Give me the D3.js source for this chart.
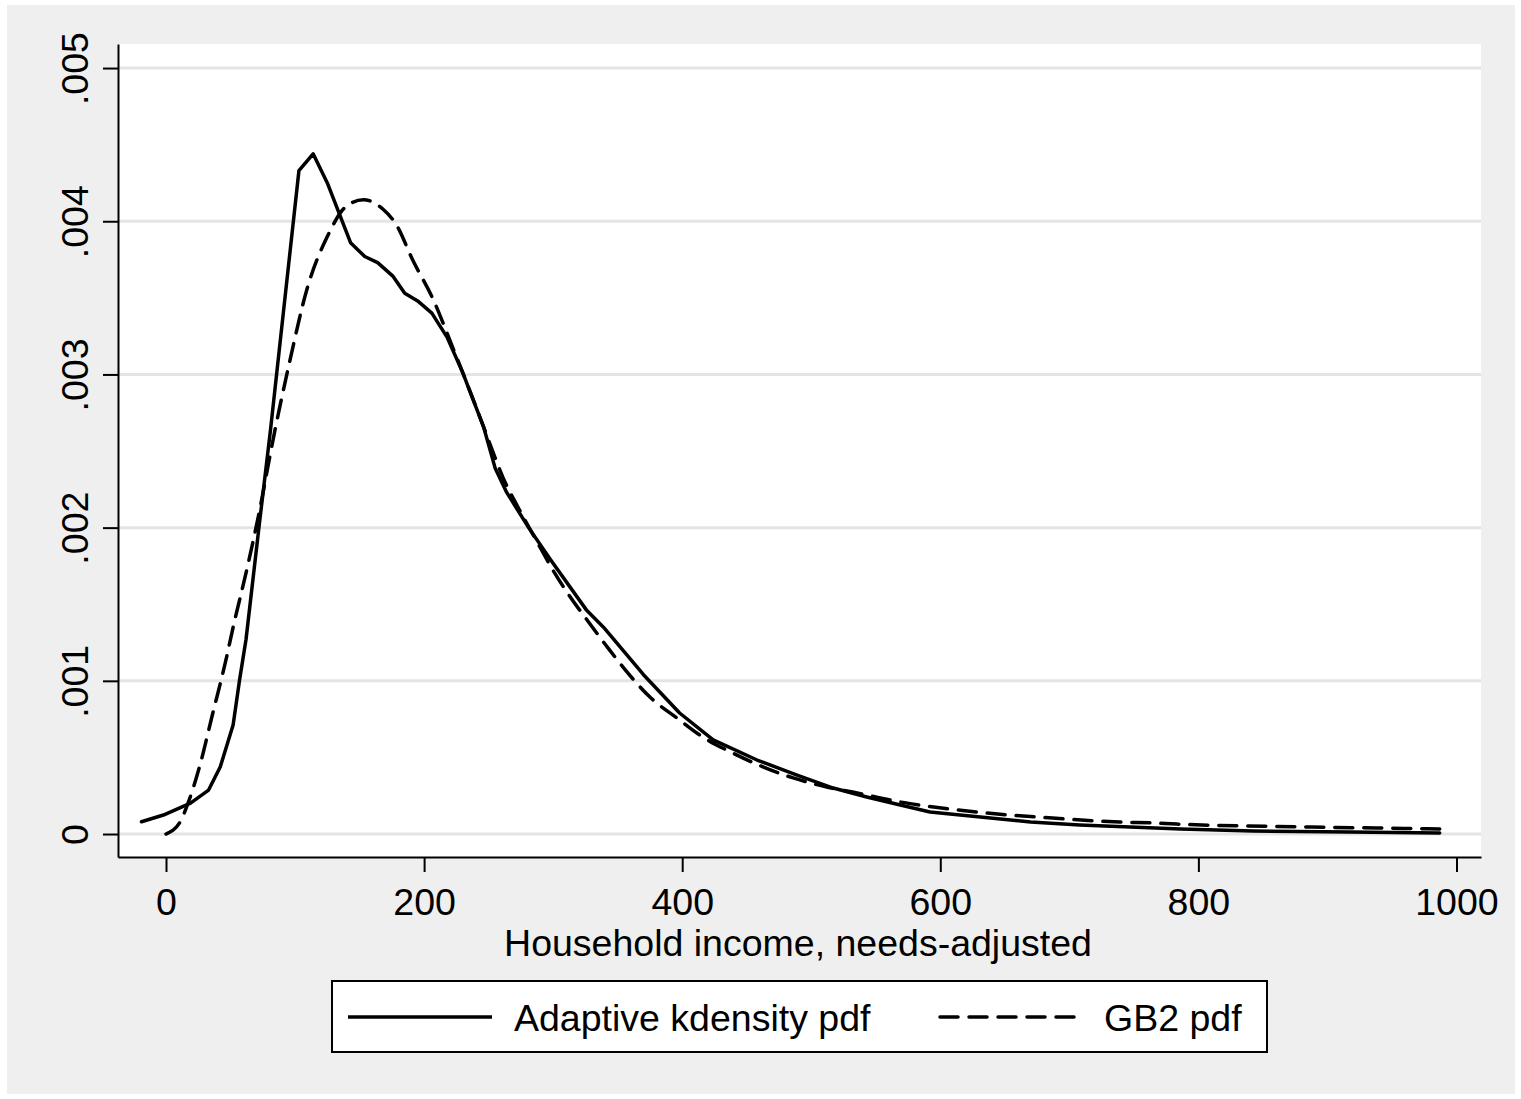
<!DOCTYPE html>
<html>
<head>
<meta charset="utf-8">
<script src="https://cdn.jsdelivr.net/npm/d3@7"></script>
<style>
  body { margin: 0; background: #ffffff; }
  text { font-family: "Liberation Sans", Arial, Helvetica, sans-serif; fill: #000; }
</style>
</head>
<body>
<div id="chart"></div>
<script>
/*********************************
   DATA
 *********************************/

// Adaptive kdensity pdf (solid)
const kdensityX = [-19, -2, 19, 33, 42, 52, 57, 62, 72, 81, 103, 114, 125, 143, 154, 164, 176, 185, 195, 206, 218, 230, 246, 255, 264, 281, 298, 326, 339, 370, 398, 424, 458, 489, 517, 543, 569, 592, 631, 670, 708, 747, 786, 842, 917, 987];
const kdensityY = [0.00008, 0.000124, 0.000202, 0.000287, 0.000437, 0.000711, 0.001005, 0.00127, 0.002, 0.00264, 0.00433, 0.00444, 0.00425, 0.00386, 0.00377, 0.00373, 0.00364, 0.00353, 0.00348, 0.0034, 0.00324, 0.00301, 0.00266, 0.00239, 0.00223, 0.002, 0.00179, 0.00146, 0.00135, 0.00104, 0.00079, 0.000614, 0.000483, 0.000385, 0.0003, 0.000242, 0.000189, 0.000144, 0.000111, 0.000078, 0.000059, 0.000046, 0.000033, 0.00002, 0.000013, 0.000007];

// GB2 pdf (dashed)
const gb2X = [0, 11, 17, 26, 36, 46, 52, 63, 71, 85, 96, 109, 125, 140, 153, 168, 179, 191, 207, 222, 246, 250, 261, 273, 288, 300, 313, 326, 342, 357, 375, 396, 416, 439, 463, 486, 512, 532, 569, 584, 636, 687, 739, 765, 783, 887, 964, 987];
const gb2Y = [0, 0.00008, 0.0002, 0.00044, 0.00078, 0.00112, 0.00135, 0.00174, 0.00205, 0.00266, 0.00309, 0.00355, 0.0039, 0.0041, 0.00414, 0.00408, 0.00397, 0.00375, 0.00349, 0.00318, 0.00266, 0.00257, 0.00233, 0.00213, 0.0019, 0.00172, 0.00155, 0.0014, 0.00122, 0.00106, 0.000894, 0.000757, 0.000633, 0.000529, 0.000437, 0.000366, 0.000307, 0.000274, 0.000209, 0.000189, 0.000137, 0.000104, 0.000078, 0.000072, 0.000065, 0.000046, 0.000036, 0.000033];

// Axis Ticks & Labels
const xTicks = [0, 200, 400, 600, 800, 1000];
const yTicks = [0, 0.001, 0.002, 0.003, 0.004, 0.005];
const yTickLabels = ["0", ".001", ".002", ".003", ".004", ".005"];
const xTitle = "Household income, needs-adjusted";
const legendLabels = ["Adaptive kdensity pdf", "GB2 pdf"];

/*********************************
   DRAW CHART
 *********************************/

// Initialise Dimensions
let w = 1521, h = 1099;
let plotLeft = 118, plotRight = 1481, plotTop = 44, plotBottom = 857;
let lineWidth = 3.5, dash = "18 11";

// Render SVG On DOM
let svg = d3.select("#chart").append("svg").attr("width", w).attr("height", h);

// Graph Region Background
svg.append("rect").attr("x", 7).attr("y", 5).attr("width", 1508).attr("height", 1089).attr("fill", "#efefef");
svg.append("rect").attr("x", plotLeft).attr("y", plotTop).attr("width", plotRight - plotLeft).attr("height", plotBottom - plotTop).attr("fill", "#ffffff");

// Setup Scales & Axes
let xScale = d3.scaleLinear().domain([-37.2, 1019]).range([plotLeft, plotRight]);
let yScale = d3.scaleLinear().domain([-0.00015, 0.005157]).range([plotBottom, plotTop]);

// Gridlines
svg.append("g").selectAll("line").data(yTicks).enter().append("line")
  .attr("x1", plotLeft).attr("x2", plotRight)
  .attr("y1", (d) => { return yScale(d); }).attr("y2", (d) => { return yScale(d); })
  .attr("stroke", "#e4e4e4").attr("stroke-width", 3);

let xAxis = d3.axisBottom(xScale).tickValues(xTicks).tickSize(15).tickSizeOuter(0).tickFormat(d3.format("d"));
let yAxis = d3.axisLeft(yScale).tickValues(yTicks).tickSize(15).tickSizeOuter(0).tickFormat((d, i) => { return yTickLabels[i]; });

// Draw Axes
let gx = svg.append("g").attr("transform", "translate(0, " + plotBottom + ")").call(xAxis);
let gy = svg.append("g").attr("transform", "translate(" + plotLeft + ", 0)").call(yAxis);

[gx, gy].forEach((g) => {
  g.select(".domain").attr("stroke", "#000").attr("stroke-width", 2);
  g.selectAll(".tick line").attr("stroke", "#000").attr("stroke-width", 2);
  g.selectAll(".tick text").attr("font-size", 37.5).attr("fill", "#000").style("font-family", "'Liberation Sans', Arial, sans-serif");
});
gx.selectAll(".tick text").attr("y", 58).attr("dy", 0);
gy.selectAll(".tick text").attr("transform", "rotate(-90)").attr("x", 0).attr("y", -30).attr("dy", 0).attr("text-anchor", "middle");

// Label X Axis
svg.append("text").text(xTitle).attr("x", 798).attr("y", 956).attr("text-anchor", "middle").attr("font-size", 37.5);

// Draw Lines
let line = d3.line().x((d) => { return xScale(d[0]); }).y((d) => { return yScale(d[1]); });
let smoothLine = d3.line().curve(d3.curveMonotoneX).x((d) => { return xScale(d[0]); }).y((d) => { return yScale(d[1]); });
let kdensityData = kdensityX.map((x, i) => { return [x, kdensityY[i]]; });
let gb2Data = gb2X.map((x, i) => { return [x, gb2Y[i]]; });

svg.append("path").datum(gb2Data).attr("d", smoothLine)
  .attr("fill", "none").attr("stroke", "#000").attr("stroke-width", lineWidth)
  .attr("stroke-dasharray", dash).attr("stroke-linecap", "round").attr("stroke-linejoin", "round");
svg.append("path").datum(kdensityData).attr("d", line)
  .attr("fill", "none").attr("stroke", "#000").attr("stroke-width", lineWidth)
  .attr("stroke-linecap", "round").attr("stroke-linejoin", "round");

// Show Legend
svg.append("rect").attr("x", 332).attr("y", 981).attr("width", 935).attr("height", 71).attr("fill", "#fff").attr("stroke", "#000").attr("stroke-width", 2);
svg.append("line").attr("x1", 348).attr("x2", 492).attr("y1", 1017).attr("y2", 1017).attr("stroke", "#000").attr("stroke-width", lineWidth);
svg.append("text").attr("x", 514).attr("y", 1031).text(legendLabels[0]).attr("font-size", 37.5);
svg.append("line").attr("x1", 940).attr("x2", 1083).attr("y1", 1017).attr("y2", 1017).attr("stroke", "#000").attr("stroke-width", lineWidth)
  .attr("stroke-dasharray", dash).attr("stroke-linecap", "round");
svg.append("text").attr("x", 1104).attr("y", 1031).text(legendLabels[1]).attr("font-size", 37.5);
</script>
</body>
</html>
